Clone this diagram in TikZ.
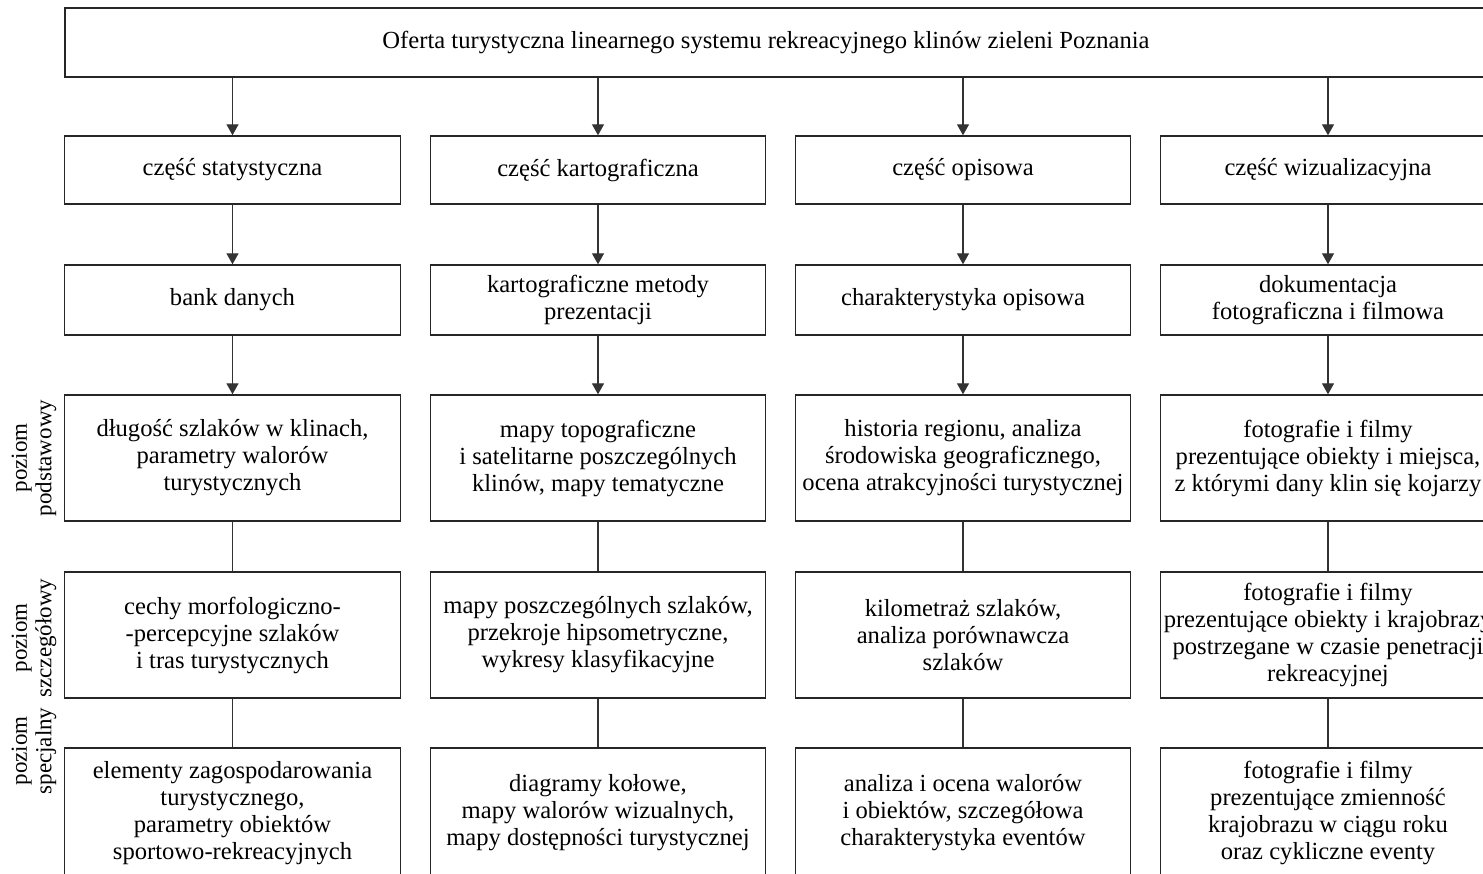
\documentclass[tikz,border=0pt]{standalone}
\usepackage{fontspec}
\setmainfont{Liberation Serif}
\usetikzlibrary{arrows.meta}
\tikzset{
  txt/.style={font=\fontsize{24.6}{27}\selectfont},
  box/.style={txt, draw=black!85, line width=1.4pt, minimum width=335.5pt, inner sep=0pt, align=center},
  arr/.style={draw=black!80, line width=1.4pt, -{Triangle[width=12pt,length=11pt]}},
  con/.style={draw=black!80, line width=1.4pt},
  lev/.style={rotate=90, align=center, inner sep=0pt, font=\fontsize{23}{24.5}\selectfont}
}
\begin{document}
\begin{tikzpicture}[x=1pt,y=-1pt]
\useasboundingbox (0,0) rectangle (1483,874);
\clip (0,0) rectangle (1483,874);
% top
\node[box, minimum width=1431pt, minimum height=69pt] (top) at (780.5,42.5) {};
\node[txt, inner sep=0pt] (toptext) at (766,42.5) {Oferta turystyczna linearnego systemu rekreacyjnego klinów zieleni Poznania};
% row 1
\node[box, minimum height=68pt] (a1) at (232.5,170) {część statystyczna};
\node[box, minimum height=68pt] (b1) at (598,170) {część kartograficzna};
\node[box, minimum height=68pt] (c1) at (963,170) {część opisowa};
\node[box, minimum height=68pt] (d1) at (1328,170) {część wizualizacyjna};
% row 2
\node[box, minimum height=70pt] (a2) at (232.5,300) {bank danych};
\node[box, minimum height=70pt] (b2) at (598,300) {kartograficzne metody\\prezentacji};
\node[box, minimum height=70pt] (c2) at (963,300) {charakterystyka opisowa};
\node[box, minimum height=70pt] (d2) at (1328,300) {dokumentacja\\fotograficzna i filmowa};
% row 3
\node[box, minimum height=126pt] (a3) at (232.5,458) {długość szlaków w klinach,\\parametry walorów\\turystycznych};
\node[box, minimum height=126pt] (b3) at (598,458) {mapy topograficzne\\i satelitarne poszczególnych\\klinów, mapy tematyczne};
\node[box, minimum height=126pt] (c3) at (963,458) {historia regionu, analiza\\środowiska geograficznego,\\ocena atrakcyjności turystycznej};
\node[box, minimum height=126pt] (d3) at (1328,458) {fotografie i filmy\\prezentujące obiekty i miejsca,\\z którymi dany klin się kojarzy};
% row 4
\node[box, minimum height=126pt] (a4) at (232.5,635) {cechy morfologiczno-\\-percepcyjne szlaków\\i tras turystycznych};
\node[box, minimum height=126pt] (b4) at (598,635) {mapy poszczególnych szlaków,\\przekroje hipsometryczne,\\wykresy klasyfikacyjne};
\node[box, minimum height=126pt] (c4) at (963,635) {kilometraż szlaków,\\analiza porównawcza\\szlaków};
\node[box, minimum height=126pt] (d4) at (1328,635) {fotografie i filmy\\prezentujące obiekty i krajobrazy\\postrzegane w czasie penetracji\\rekreacyjnej};
% row 5
\node[box, minimum height=130pt] (a5) at (232.5,813) {elementy zagospodarowania\\turystycznego,\\parametry obiektów\\sportowo-rekreacyjnych};
\node[box, minimum height=130pt] (b5) at (598,813) {diagramy kołowe,\\mapy walorów wizualnych,\\mapy dostępności turystycznej};
\node[box, minimum height=130pt] (c5) at (963,813) {analiza i ocena walorów\\i obiektów, szczegółowa\\charakterystyka eventów};
\node[box, minimum height=130pt] (d5) at (1328,813) {fotografie i filmy\\prezentujące zmienność\\krajobrazu w ciągu roku\\oraz cykliczne eventy};
% level labels
\node[lev] (l3) at (34,458) {poziom\\podstawowy};
\node[lev] (l4) at (34,638) {poziom\\szczegółowy};
\node[lev] (l5) at (34,751) {poziom\\specjalny};
% connectors
\foreach \c in {a,b,c,d}{
  \draw[arr] (\c1.north |- top.south) -- (\c1.north);
  \draw[arr] (\c1.south) -- (\c2.north);
  \draw[arr] (\c2.south) -- (\c3.north);
  \draw[con] (\c3.south) -- (\c4.north);
  \draw[con] (\c4.south) -- (\c5.north);
}
\end{tikzpicture}
\end{document}
